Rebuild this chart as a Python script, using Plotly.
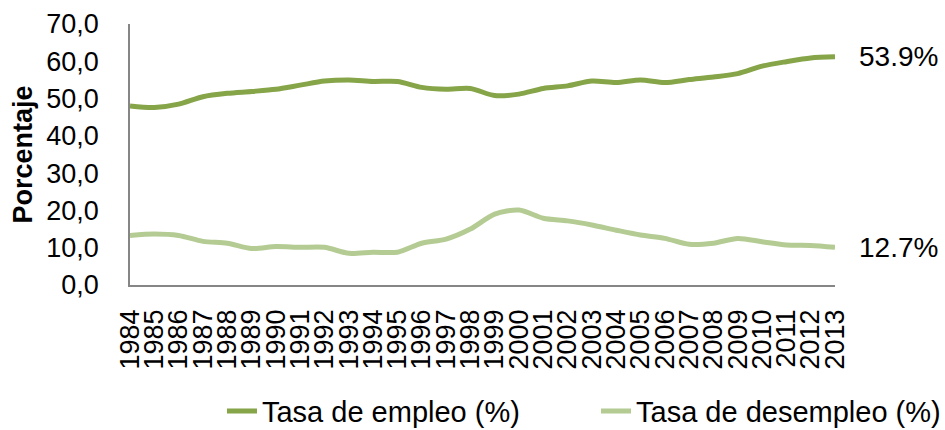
import plotly.graph_objects as go

# Colombian labour market rates, 1984-2013
years = [str(y) for y in range(1984, 2014)]
tasa_empleo = [48.0, 47.6, 48.5, 50.5, 51.4, 51.9, 52.5, 53.6, 54.7, 55.0,
               54.6, 54.6, 53.0, 52.5, 52.7, 50.8, 51.2, 52.7, 53.4, 54.7,
               54.3, 55.0, 54.3, 55.1, 55.8, 56.7, 58.7, 59.9, 60.9, 61.2]
tasa_desempleo = [13.3, 13.7, 13.3, 11.7, 11.2, 9.8, 10.3, 10.1, 10.1, 8.5,
                  8.8, 8.8, 11.2, 12.3, 15.0, 19.0, 20.1, 17.9, 17.2, 16.1,
                  14.7, 13.4, 12.5, 10.9, 11.2, 12.5, 11.6, 10.7, 10.6, 10.1]
etiquetas_finales = ["53.9%", "12.7%"]

FONT = "Arial, 'Liberation Sans', sans-serif"
C_EMPLEO = "#86A448"
C_DESEMPLEO = "#B4CC93"
TXT = dict(family=FONT, size=27, color="#000000")

fig = go.Figure()
fig.add_trace(go.Scatter(
    x=years, y=tasa_empleo, mode="lines", name="Tasa de empleo (%)",
    line=dict(color=C_EMPLEO, width=5, shape="spline", smoothing=0.8),
    legend="legend",
))
fig.add_trace(go.Scatter(
    x=years, y=tasa_desempleo, mode="lines", name="Tasa de desempleo (%)",
    line=dict(color=C_DESEMPLEO, width=5, shape="spline", smoothing=0.8),
    legend="legend2",
))

# value labels to the right of each series' last point
for serie, texto in zip([tasa_empleo, tasa_desempleo], etiquetas_finales):
    fig.add_annotation(
        xref="paper", x=1, yref="y", y=serie[-1], text=texto,
        showarrow=False, xanchor="left", yanchor="middle", xshift=22,
        font=dict(family=FONT, size=28, color="#000000"),
    )

legend_common = dict(orientation="h", xref="container", yref="container",
                     y=0.044, yanchor="middle", xanchor="left",
                     font=dict(family=FONT, size=29, color="#000000"),
                     bgcolor="rgba(0,0,0,0)")

fig.update_layout(
    width=945, height=430,
    margin=dict(l=130, r=110, t=24, b=145, autoexpand=False),
    paper_bgcolor="white", plot_bgcolor="white",
    separators=",.",
    font=TXT,
    showlegend=True,
    legend=dict(x=0.2349, **legend_common),
    legend2=dict(x=0.6307, **legend_common),
)

fig.update_xaxes(
    type="category", range=[0, len(years) - 1],
    tickmode="linear", dtick=1, automargin=False,
    showline=True, linecolor="#868686", linewidth=1.5,
    showgrid=False, zeroline=False, ticks="",
    tickangle=-90, ticklabelstandoff=12,
    tickfont=TXT,
)
fig.update_yaxes(
    range=[0, 70], dtick=10, tickformat=".1f", automargin=False,
    showline=True, linecolor="#868686", linewidth=1.5,
    showgrid=False, zeroline=False, ticks="",
    ticklabelstandoff=24,
    tickfont=TXT,
    title=dict(text="<b>Porcentaje</b>", standoff=6, font=TXT),
)

fig.write_html("out.html")
